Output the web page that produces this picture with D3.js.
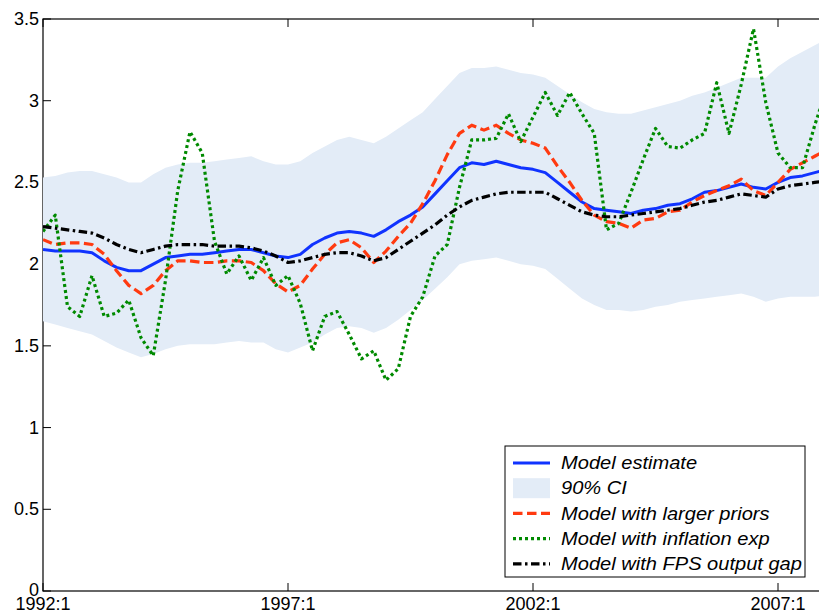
<!DOCTYPE html>
<html>
<head>
<meta charset="utf-8">
<script src="https://cdn.jsdelivr.net/npm/d3@7/dist/d3.min.js"></script>
<style>
  html, body { margin: 0; padding: 0; background: #fff; }
  svg { display: block; }
  text { font-family: "Liberation Sans", Arial, Helvetica, sans-serif; fill: #000; }
</style>
</head>
<body>
<svg id="chart" width="819" height="615"></svg>
<script>
// Quarterly sample 1992:1 – 2008:1
const quarters = [];
for (let y = 1992; y <= 2008; y++) {
  for (let q = 1; q <= 4; q++) {
    if (y === 2008 && q > 1) break;
    quarters.push(y + ":" + q);
  }
}

const xTickLabels = ["1992:1", "1997:1", "2002:1", "2007:1"];
const yTicks = [0, 0.5, 1, 1.5, 2, 2.5, 3, 3.5];

// Model estimate
const modelEstimate = [
  2.09, 2.08, 2.08, 2.08, 2.07, 2.02, 1.98, 1.96, 1.96, 2.00,
  2.04, 2.05, 2.06, 2.06, 2.07, 2.08, 2.09, 2.09, 2.07, 2.05,
  2.04, 2.06, 2.12, 2.16, 2.19, 2.20, 2.19, 2.17, 2.21, 2.26,
  2.30, 2.35, 2.43, 2.51, 2.59, 2.62, 2.61, 2.63, 2.61, 2.59,
  2.58, 2.56, 2.50, 2.44, 2.38, 2.34, 2.33, 2.32, 2.31, 2.33,
  2.34, 2.36, 2.37, 2.40, 2.44, 2.45, 2.47, 2.49, 2.47, 2.46,
  2.50, 2.53, 2.54, 2.56, 2.58
];

// 90% credible interval bounds
const ciUpper = [
  2.53, 2.54, 2.56, 2.57, 2.57, 2.55, 2.53, 2.50, 2.50, 2.55,
  2.59, 2.61, 2.62, 2.62, 2.63, 2.64, 2.65, 2.66, 2.63, 2.61,
  2.61, 2.63, 2.68, 2.72, 2.76, 2.78, 2.76, 2.74, 2.78, 2.83,
  2.88, 2.93, 3.01, 3.09, 3.17, 3.20, 3.20, 3.21, 3.19, 3.17,
  3.16, 3.14, 3.09, 3.04, 2.99, 2.95, 2.93, 2.92, 2.92, 2.94,
  2.96, 2.98, 3.00, 3.03, 3.05, 3.08, 3.11, 3.14, 3.14, 3.14,
  3.21, 3.26, 3.30, 3.34, 3.38
];
const ciLower = [
  1.65, 1.63, 1.61, 1.59, 1.57, 1.53, 1.49, 1.46, 1.43, 1.45,
  1.48, 1.50, 1.51, 1.51, 1.51, 1.52, 1.53, 1.52, 1.52, 1.48,
  1.46, 1.49, 1.52, 1.57, 1.61, 1.62, 1.61, 1.58, 1.61, 1.66,
  1.72, 1.78, 1.85, 1.92, 2.00, 2.02, 2.03, 2.04, 2.02, 2.00,
  1.99, 1.97, 1.91, 1.85, 1.79, 1.75, 1.72, 1.72, 1.71, 1.72,
  1.74, 1.75, 1.77, 1.78, 1.79, 1.80, 1.81, 1.82, 1.80, 1.77,
  1.79, 1.80, 1.80, 1.80, 1.81
];

// Model with larger priors
const largerPriors = [
  2.15, 2.12, 2.13, 2.13, 2.12, 2.06, 1.96, 1.87, 1.82, 1.87,
  1.96, 2.02, 2.02, 2.01, 2.01, 2.02, 2.02, 2.01, 1.96, 1.88,
  1.83, 1.87, 1.97, 2.06, 2.13, 2.15, 2.10, 2.01, 2.08, 2.17,
  2.25, 2.37, 2.51, 2.67, 2.80, 2.85, 2.82, 2.85, 2.80, 2.76,
  2.74, 2.71, 2.60, 2.50, 2.39, 2.30, 2.26, 2.25, 2.22, 2.27,
  2.28, 2.32, 2.33, 2.38, 2.42, 2.45, 2.48, 2.52, 2.45, 2.42,
  2.50, 2.58, 2.62, 2.66, 2.70
];

// Model with inflation expectations
const inflationExp = [
  2.20, 2.30, 1.74, 1.68, 1.93, 1.68, 1.70, 1.78, 1.55, 1.44,
  1.90, 2.45, 2.81, 2.68, 2.14, 1.94, 2.05, 1.90, 2.04, 1.87,
  1.93, 1.76, 1.47, 1.68, 1.71, 1.57, 1.42, 1.47, 1.29, 1.36,
  1.68, 1.80, 2.05, 2.12, 2.47, 2.76, 2.76, 2.77, 2.92, 2.75,
  2.90, 3.05, 2.91, 3.05, 2.92, 2.80, 2.21, 2.25, 2.44, 2.64,
  2.83, 2.72, 2.71, 2.76, 2.80, 3.11, 2.80, 3.10, 3.44, 2.99,
  2.68, 2.59, 2.59, 2.85, 3.08
];

// Model with FPS output gap
const fpsOutputGap = [
  2.23, 2.22, 2.21, 2.20, 2.19, 2.16, 2.12, 2.09, 2.07, 2.09,
  2.11, 2.12, 2.12, 2.12, 2.11, 2.11, 2.11, 2.10, 2.08, 2.05,
  2.01, 2.02, 2.04, 2.06, 2.07, 2.07, 2.05, 2.02, 2.04, 2.09,
  2.14, 2.19, 2.24, 2.30, 2.35, 2.39, 2.41, 2.43, 2.44, 2.44,
  2.44, 2.44, 2.40, 2.36, 2.32, 2.30, 2.29, 2.29, 2.30, 2.31,
  2.32, 2.33, 2.34, 2.36, 2.38, 2.39, 2.41, 2.43, 2.42, 2.41,
  2.46, 2.48, 2.49, 2.50, 2.51
];

const legendLabels = [
  "Model estimate",
  "90% CI",
  "Model with larger priors",
  "Model with inflation exp",
  "Model with FPS output gap"
];

// ---- layout ----
const plot = { left: 43, right: 827, top: 19, bottom: 591 };
const svg = d3.select("#chart");

const x = d3.scalePoint().domain(quarters).range([plot.left, plot.right]);
const y = d3.scaleLinear().domain([0, 3.5]).range([plot.bottom, plot.top]);

const TICK = 8;
const tickFont = 18;

// ---- axes and frame ----
const axisG = svg.append("g");

// frame
axisG.append("rect")
  .attr("x", plot.left).attr("y", plot.top)
  .attr("width", plot.right - plot.left).attr("height", plot.bottom - plot.top)
  .attr("fill", "none").attr("stroke", "#000").attr("stroke-width", 1.2);

// y ticks (both sides, pointing inward)
yTicks.forEach(v => {
  const yy = y(v);
  axisG.append("line").attr("x1", plot.left).attr("x2", plot.left + TICK)
    .attr("y1", yy).attr("y2", yy).attr("stroke", "#000").attr("stroke-width", 1);
  axisG.append("line").attr("x1", plot.right).attr("x2", plot.right - TICK)
    .attr("y1", yy).attr("y2", yy).attr("stroke", "#000").attr("stroke-width", 1);
  axisG.append("text")
    .attr("x", plot.left - 4).attr("y", yy - (v === 0 ? 1.5 : 0))
    .attr("text-anchor", "end").attr("dominant-baseline", "central")
    .style("font-size", tickFont + "px")
    .text(d3.format("")(v));
});

// x ticks (bottom and top, pointing inward)
xTickLabels.forEach(lbl => {
  const xx = x(lbl);
  axisG.append("line").attr("x1", xx).attr("x2", xx)
    .attr("y1", plot.bottom).attr("y2", plot.bottom - TICK)
    .attr("stroke", "#000").attr("stroke-width", 1);
  axisG.append("line").attr("x1", xx).attr("x2", xx)
    .attr("y1", plot.top).attr("y2", plot.top + TICK)
    .attr("stroke", "#000").attr("stroke-width", 1);
  axisG.append("text")
    .attr("x", xx).attr("y", plot.bottom + 19)
    .attr("text-anchor", "middle")
    .style("font-size", tickFont + "px")
    .text(lbl);
});

// ---- data ----
svg.append("clipPath").attr("id", "plotClip")
  .append("rect")
  .attr("x", plot.left).attr("y", plot.top)
  .attr("width", plot.right - plot.left).attr("height", plot.bottom - plot.top);

const dataG = svg.append("g").attr("clip-path", "url(#plotClip)");

const band = d3.area()
  .x((d, i) => x(quarters[i]))
  .y0((d, i) => y(ciLower[i]))
  .y1((d, i) => y(ciUpper[i]));

dataG.append("path").datum(ciUpper)
  .attr("d", band)
  .attr("fill", "#e3ecf7");

const line = d3.line().x((d, i) => x(quarters[i])).y(d => y(d));

const styles = {
  estimate: { color: "#1033ff", width: 3, dash: null },
  priors:   { color: "#ff3a10", width: 3.2, dash: "9.5,4.5" },
  inflation:{ color: "#008a00", width: 3.2, dash: "3,3" },
  fps:      { color: "#000000", width: 3.2, dash: "8.5,3.5,2.5,3.5" }
};

function drawSeries(values, st) {
  dataG.append("path").datum(values)
    .attr("d", line)
    .attr("fill", "none")
    .attr("stroke", st.color)
    .attr("stroke-width", st.width)
    .attr("stroke-linejoin", "round")
    .attr("stroke-dasharray", st.dash);
}

drawSeries(modelEstimate, styles.estimate);
drawSeries(largerPriors, styles.priors);
drawSeries(inflationExp, styles.inflation);
drawSeries(fpsOutputGap, styles.fps);

// ---- legend ----
const lg = { x: 505, y: 446, w: 300, h: 131, row0: 463, rowStep: 25.2, sx0: 513, sx1: 550, tx: 561 };
const legend = svg.append("g");
legend.append("rect")
  .attr("x", lg.x).attr("y", lg.y).attr("width", lg.w).attr("height", lg.h)
  .attr("fill", "#fff").attr("stroke", "#000").attr("stroke-width", 1);

const legendStyles = [styles.estimate, null, styles.priors, styles.inflation, styles.fps];
legendLabels.forEach((lbl, i) => {
  const cy = lg.row0 + i * lg.rowStep;
  const st = legendStyles[i];
  if (st) {
    legend.append("line")
      .attr("x1", lg.sx0).attr("x2", lg.sx1).attr("y1", cy).attr("y2", cy)
      .attr("stroke", st.color).attr("stroke-width", st.width)
      .attr("stroke-dasharray", st.dash);
  } else {
    legend.append("rect")
      .attr("x", lg.sx0).attr("y", cy - 10).attr("width", lg.sx1 - lg.sx0).attr("height", 20)
      .attr("fill", "#e3ecf7");
  }
  // legend labels are set slightly wide
  legend.append("text")
    .attr("transform", `translate(${lg.tx},${cy}) scale(1.085,1)`)
    .attr("dominant-baseline", "central")
    .style("font-size", "18.5px")
    .style("font-style", "italic")
    .text(lbl);
});
</script>
</body>
</html>
